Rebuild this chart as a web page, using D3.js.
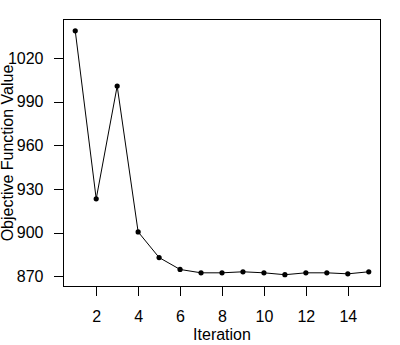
<!DOCTYPE html>
<html><head><meta charset="utf-8">
<script src="https://cdn.jsdelivr.net/npm/d3@7"></script>
<style>body{margin:0;background:#fff}svg{display:block}text{font-family:"Liberation Sans",Arial,sans-serif;font-size:16px;fill:#000}</style>
</head><body>
<script>
const iterations = [1,2,3,4,5,6,7,8,9,10,11,12,13,14,15];
const objectiveValues = [1038.7,923.3,1000.8,900.6,883.0,874.8,872.5,872.5,873.2,872.5,871.2,872.5,872.5,871.8,873.2];
const xTicks = [2,4,6,8,10,12,14];
const yTicks = [870,900,930,960,990,1020];
const xLabel = "Iteration";
const yLabel = "Objective Function Value";

const W = 400, H = 345;
const mLeft = 63.5, mRight = 380.5, mTop = 19.5, mBottom = 286.5;
const svg = d3.select("body").append("svg").attr("width", W).attr("height", H);

const x = d3.scaleLinear().domain([0.44, 15.56]).range([mLeft, mRight]);
const y = d3.scaleLinear().domain([863.1, 1046.5]).range([mBottom, mTop]);

svg.append("rect").attr("x", mLeft).attr("y", mTop).attr("width", mRight-mLeft).attr("height", mBottom-mTop)
  .attr("fill","none").attr("stroke","#000").attr("stroke-width",1).attr("shape-rendering","crispEdges");

const xAxis = svg.append("g").attr("transform", `translate(0,${mBottom})`)
  .call(d3.axisBottom(x).tickValues(xTicks).tickSize(9.5).tickPadding(15).tickFormat(d3.format("d")));
xAxis.select(".domain").remove();
xAxis.selectAll("line").attr("shape-rendering","crispEdges");
xAxis.selectAll("text").attr("font-size", 16).style("font-family", '"Liberation Sans",Arial,sans-serif').attr("dy", "0.71em").attr("y", 24.5);

const yAxis = svg.append("g").attr("transform", `translate(${mLeft},0)`)
  .call(d3.axisLeft(y).tickValues(yTicks).tickSize(9.5).tickPadding(10.5).tickFormat(d3.format("d")));
yAxis.select(".domain").remove();
yAxis.selectAll("line").attr("shape-rendering","crispEdges");
yAxis.selectAll("text").attr("font-size", 16).style("font-family", '"Liberation Sans",Arial,sans-serif');

const data = iterations.map((d,i)=>({x:d, y:objectiveValues[i]}));
svg.append("path").datum(data)
  .attr("d", d3.line().x(d=>x(d.x)).y(d=>y(d.y)))
  .attr("fill","none").attr("stroke","#000").attr("stroke-width",1);
svg.selectAll("circle.pt").data(data).enter().append("circle")
  .attr("cx", d=>x(d.x)).attr("cy", d=>y(d.y)).attr("r", 2.6).attr("fill","#000");

svg.append("text").attr("x", (mLeft+mRight)/2).attr("y", 339.5).attr("text-anchor","middle").text(xLabel);
svg.append("text").attr("transform", `translate(12.5,${(mTop+mBottom)/2}) rotate(-90)`).attr("text-anchor","middle").text(yLabel);
</script>
</body></html>
